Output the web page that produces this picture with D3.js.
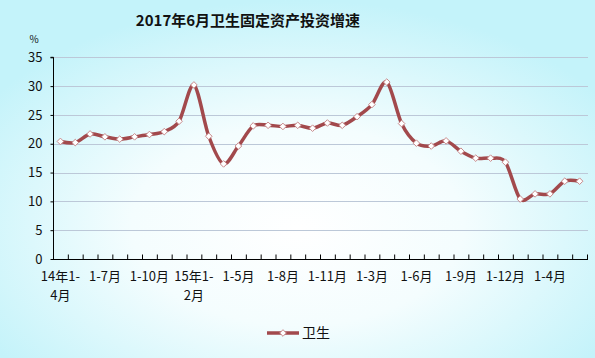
<!DOCTYPE html>
<html>
<head>
<meta charset="utf-8">
<script src="https://cdn.jsdelivr.net/npm/d3@7"></script>
<style>
  html, body { margin: 0; padding: 0; }
  body { width: 595px; height: 358px; overflow: hidden; }
  text { font-family: "Noto Sans CJK SC", "DejaVu Sans", sans-serif; }
</style>
</head>
<body>
<svg id="chart" width="595" height="358"></svg>
<script>
// periods (cumulative Jan-to-month), 2014-04 .. 2017-06
const categories = [
  '14年1-4月', '1-5月', '1-6月', '1-7月', '1-8月', '1-9月', '1-10月', '1-11月', '1-12月',
  '15年1-2月', '1-3月', '1-4月', '1-5月', '1-6月', '1-7月', '1-8月', '1-9月', '1-10月', '1-11月', '1-12月',
  '16年1-2月', '1-3月', '1-4月', '1-5月', '1-6月', '1-7月', '1-8月', '1-9月', '1-10月', '1-11月', '1-12月',
  '17年1-2月', '1-3月', '1-4月', '1-5月', '1-6月'
]

// 卫生 investment growth, %
const values = [
  20.4, 20.2, 21.7, 21.2, 20.8, 21.2, 21.6, 22.1, 23.9,
  30.2, 21.3, 16.5, 19.6, 23.1, 23.2, 23.0, 23.2, 22.7, 23.6, 23.2,
  24.7, 26.8, 30.7, 23.5, 20.1, 19.6, 20.5, 18.7, 17.5, 17.5, 16.8,
  10.4, 11.3, 11.3, 13.5, 13.5
]

// labels shown under the axis: [category index, text lines]
const tickLabels = [
  [0, ['14年1-', '4月']], [3, ['1-7月']], [6, ['1-10月']], [9, ['15年1-', '2月']],
  [12, ['1-5月']], [15, ['1-8月']], [18, ['1-11月']], [21, ['1-3月']],
  [24, ['1-6月']], [27, ['1-9月']], [30, ['1-12月']], [33, ['1-4月']]
]

const yTicks = [0, 5, 10, 15, 20, 25, 30, 35]
const seriesName = '卫生'
const title = '2017年6月卫生固定资产投资增速'

const lineColor = '#a2494c'

const svg = d3.select('#chart')
const width = 595, height = 358
const plotLeft = 53, plotRight = 587, plotTop = 57.3, plotBottom = 259

// background: cyan edges, whitish middle
const defs = svg.append('defs')
const grad = defs.append('radialGradient')
  .attr('id', 'bg')
  .attr('cx', '50%').attr('cy', '62%').attr('r', '62%')
  .attr('fx', '50%').attr('fy', '64%')
grad.append('stop').attr('offset', '0%').attr('stop-color', '#ffffff')
grad.append('stop').attr('offset', '45%').attr('stop-color', '#f4fdfe')
grad.append('stop').attr('offset', '100%').attr('stop-color', '#c4f3fa')

svg.append('rect')
  .attr('width', width).attr('height', height)
  .attr('fill', 'url(#bg)')

const x = d3.scaleLinear().domain([0, categories.length]).range([plotLeft, plotRight])
const y = d3.scaleLinear().domain([0, 35]).range([plotBottom, plotTop])
const cx = i => x(i + 0.5)

// gridlines
svg.append('g')
  .selectAll('line')
  .data(yTicks.filter(d => d > 0))
  .enter().append('line')
  .attr('x1', plotLeft).attr('x2', plotRight + 1)
  .attr('y1', d => Math.round(y(d)) + 0.5).attr('y2', d => Math.round(y(d)) + 0.5)
  .attr('stroke', '#bcc8d8')
  .attr('stroke-width', 1)

// y axis
const yAxis = svg.append('g')
  .attr('transform', `translate(${plotLeft + 0.5},0)`)
  .call(d3.axisLeft(y).tickValues(yTicks).tickSize(3).tickPadding(8).tickFormat(d3.format('d')))
yAxis.select('.domain').attr('stroke', '#000').attr('d', `M-3,${y(35)}H0V${plotBottom}`)
yAxis.selectAll('.tick line').attr('stroke', '#000')
yAxis.selectAll('.tick text')
  .attr('font-size', 13)
  .attr('fill', '#111')
  .style('font-family', '"Noto Sans CJK SC", sans-serif')

// x axis, ticks between categories pointing up
const xAxis = svg.append('g')
  .attr('transform', `translate(0,${Math.round(plotBottom) + 0.5})`)
  .call(d3.axisBottom(x).tickValues(d3.range(categories.length + 1)).tickSize(-5).tickFormat(''))
xAxis.select('.domain').attr('stroke', '#000').attr('d', `M${plotLeft},0H${plotRight + 1}`)
xAxis.selectAll('.tick line').attr('stroke', '#000')

// x labels
const lab = svg.append('g')
tickLabels.forEach(([i, lines]) => {
  lines.forEach((t, k) => {
    lab.append('text')
      .attr('x', cx(i))
      .attr('y', 281 + k * 19)
      .attr('text-anchor', 'middle')
      .attr('font-size', 13)
      .attr('fill', '#111')
      .text(t)
  })
})

// series line
const line = d3.line()
  .x((d, i) => cx(i))
  .y(d => y(d))
  .curve(d3.curveCardinal.tension(0.1))

svg.append('path')
  .datum(values)
  .attr('d', line)
  .attr('fill', 'none')
  .attr('stroke', lineColor)
  .attr('stroke-width', 3.5)
  .attr('stroke-linejoin', 'round')

const diamond = d3.symbol().type(d3.symbolDiamond2).size(28)

svg.append('g')
  .selectAll('path')
  .data(values)
  .enter().append('path')
  .attr('d', diamond)
  .attr('transform', (d, i) => `translate(${cx(i)},${y(d)})`)
  .attr('fill', '#ffffff')
  .attr('stroke', '#c88a8c')
  .attr('stroke-width', 1)

// title and unit
svg.append('text')
  .attr('x', 248)
  .attr('y', 26)
  .attr('text-anchor', 'middle')
  .attr('font-size', 15)
  .attr('font-weight', 'bold')
  .attr('fill', '#111')
  .text(title)

svg.append('text')
  .attr('x', 34)
  .attr('y', 43)
  .attr('text-anchor', 'middle')
  .attr('font-size', 10)
  .attr('fill', '#111')
  .text('%')

// legend
const lg = svg.append('g').attr('transform', 'translate(267,333)')
lg.append('line')
  .attr('x1', 0).attr('x2', 32)
  .attr('stroke', lineColor)
  .attr('stroke-width', 3.5)
lg.append('path')
  .attr('d', diamond)
  .attr('transform', 'translate(16,0)')
  .attr('fill', '#ffffff')
  .attr('stroke', '#c88a8c')
lg.append('text')
  .attr('x', 35)
  .attr('y', 5)
  .attr('font-size', 14)
  .attr('fill', '#111')
  .text(seriesName)
</script>
</body>
</html>
